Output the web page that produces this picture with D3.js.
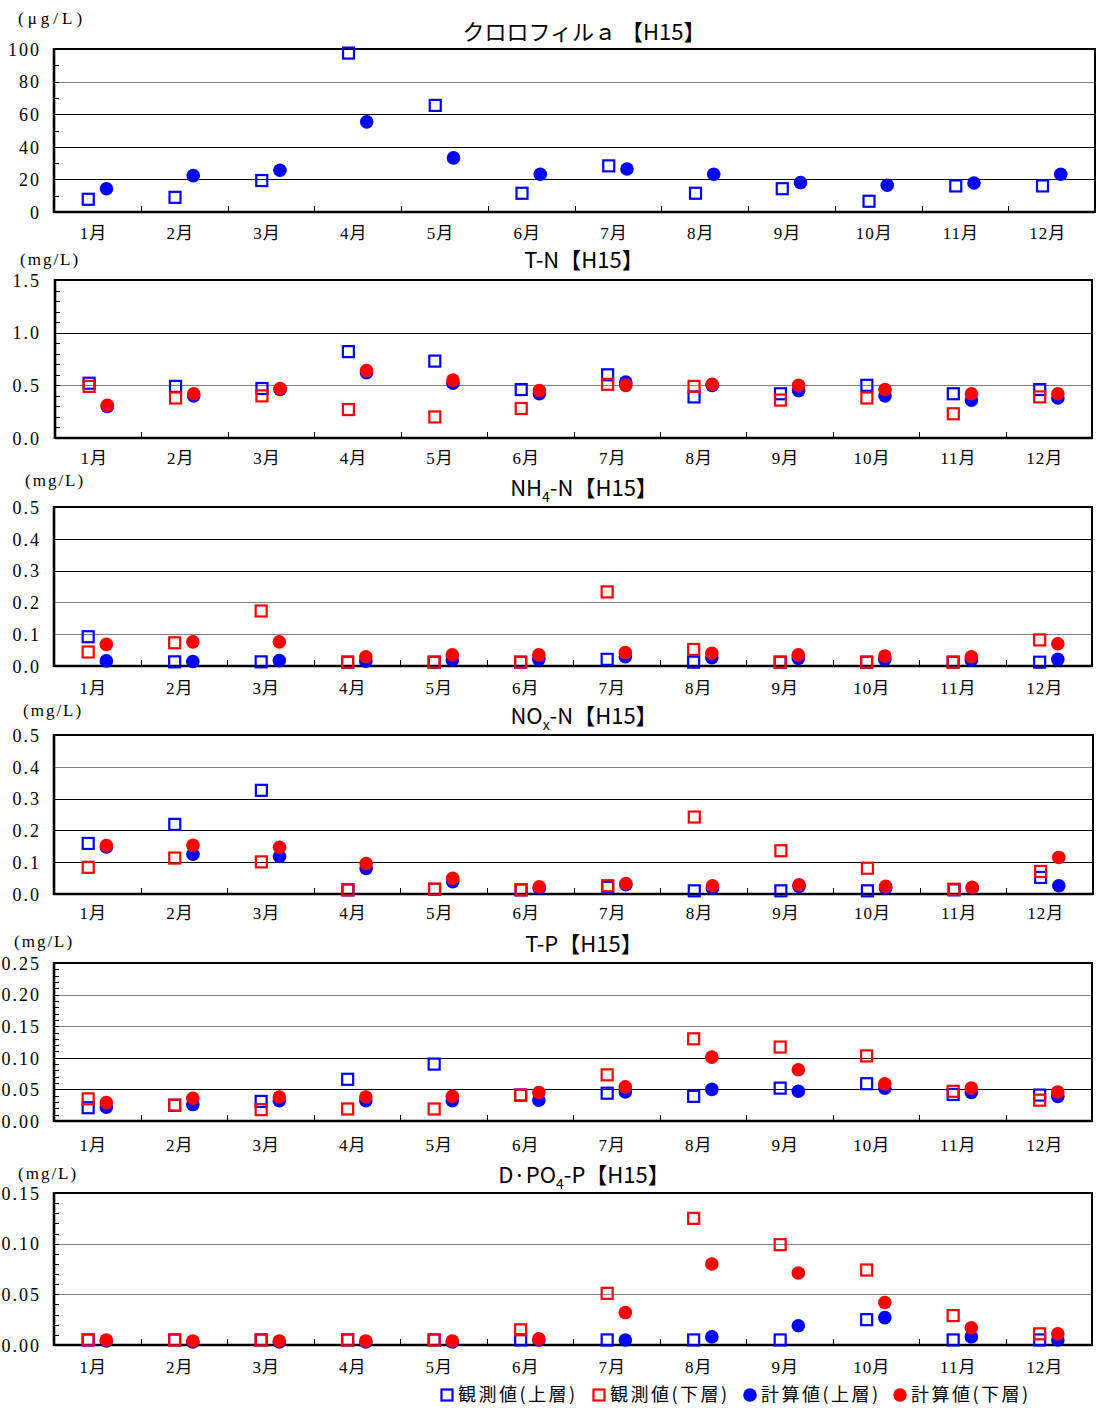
<!DOCTYPE html>
<html><head><meta charset="utf-8">
<script src="https://cdn.jsdelivr.net/npm/d3@7"></script>
<style>body{margin:0;background:#fff}svg{display:block}</style>
</head><body>
<svg id="chart" width="1097" height="1410"></svg>
<script>
// ---------- DATA ----------
const months = ["1月","2月","3月","4月","5月","6月","7月","8月","9月","10月","11月","12月"];
const seriesNames = ["観測値(上層)","観測値(下層)","計算値(上層)","計算値(下層)"];

// クロロフィルa (μg/L)
const chlTicks = [0,20,40,60,80,100];
const chlObsUpper  = [7.8, 9.0, 19.3, 97.5, 65.4, 11.5, 28.3, 11.5, 14.3, 6.6, 16.0, 16.0];
const chlCalcUpper = [14.3, 22.3, 25.6, 55.3, 33.2, 23.2, 26.4, 23.2, 18.0, 16.4, 17.8, 23.2];

// T-N (mg/L)
const tnTicks = [0,0.5,1.0,1.5];
const tnObsUpper  = [0.52,0.49,0.47,0.82,0.73,0.46,0.60,0.39,0.42,0.50,0.42,0.46];
const tnObsLower  = [0.49,0.38,0.40,0.27,0.20,0.28,0.51,0.49,0.36,0.38,0.23,0.39];
const tnCalcUpper = [0.30,0.40,0.46,0.62,0.52,0.42,0.53,0.50,0.45,0.40,0.36,0.38];
const tnCalcLower = [0.31,0.42,0.47,0.64,0.55,0.45,0.50,0.51,0.50,0.46,0.42,0.42];

// NH4-N (mg/L)
const nh4Ticks = [0,0.1,0.2,0.3,0.4,0.5];
const nh4ObsUpper  = [0.092,0.013,0.013,0.012,0.012,0.012,0.021,0.012,0.012,0.012,0.012,0.012];
const nh4ObsLower  = [0.044,0.073,0.173,0.012,0.012,0.012,0.233,0.052,0.012,0.012,0.012,0.082];
const nh4CalcUpper = [0.016,0.014,0.017,0.015,0.019,0.021,0.029,0.026,0.024,0.021,0.018,0.021];
const nh4CalcLower = [0.068,0.076,0.076,0.029,0.035,0.035,0.042,0.040,0.035,0.031,0.029,0.070];

// NOx-N (mg/L)
const noxTicks = [0,0.1,0.2,0.3,0.4,0.5];
const noxObsUpper  = [0.159,0.219,0.326,0.013,0.015,0.013,0.021,0.010,0.010,0.010,0.013,0.052];
const noxObsLower  = [0.084,0.113,0.101,0.013,0.015,0.013,0.026,0.242,0.136,0.081,0.015,0.071];
const noxCalcUpper = [0.148,0.125,0.118,0.080,0.039,0.018,0.029,0.018,0.024,0.019,0.019,0.026];
const noxCalcLower = [0.152,0.153,0.147,0.096,0.049,0.023,0.033,0.026,0.029,0.024,0.021,0.115];

// T-P (mg/L)
const tpTicks = [0,0.05,0.10,0.15,0.20,0.25];
const tpObsUpper  = [0.021,0.025,0.031,0.066,0.090,0.041,0.044,0.039,0.052,0.059,0.042,0.041];
const tpObsLower  = [0.035,0.025,0.018,0.019,0.019,0.041,0.073,0.130,0.117,0.103,0.047,0.033];
const tpCalcUpper = [0.022,0.026,0.032,0.032,0.032,0.033,0.046,0.050,0.047,0.052,0.045,0.039];
const tpCalcLower = [0.029,0.036,0.038,0.038,0.039,0.045,0.054,0.101,0.081,0.059,0.052,0.046];

// D・PO4-P (mg/L)
const po4Ticks = [0,0.05,0.10,0.15];
const po4ObsUpper  = [0.005,0.005,0.005,0.005,0.005,0.005,0.005,0.005,0.005,0.025,0.005,0.005];
const po4ObsLower  = [0.005,0.005,0.005,0.005,0.005,0.015,0.051,0.125,0.099,0.074,0.029,0.011];
const po4CalcUpper = [0.004,0.003,0.003,0.003,0.003,0.005,0.005,0.008,0.019,0.027,0.008,0.005];
const po4CalcLower = [0.005,0.004,0.004,0.004,0.004,0.006,0.032,0.080,0.071,0.042,0.017,0.011];

// ---------- LAYOUT / STYLE ----------
const SERIF = "'Liberation Serif','DejaVu Serif','Noto Sans CJK JP',serif";
const GOTHIC = "'Noto Sans CJK JP','Noto Sans',sans-serif";
const BLUE = "#0000ff", RED = "#ff0000";
const styles = [
  {shape:"square", color:BLUE},
  {shape:"square", color:RED},
  {shape:"circle", color:BLUE},
  {shape:"circle", color:RED}
];

const panels = [
  {title:[{t:"クロロフィルａ 【H15】"}], unit:"(μg/L)", unitX:18, unitLs:4, unitY:18,
   ticks:chlTicks, fmt:d3.format("d"), minor:10, gray:[80],
   series:[chlObsUpper,null,chlCalcUpper,null],
   box:{l:54,r:1095,t:49,b:212}, titleY:32, monthDy:21},
  {title:[{t:"T-N【H15】"}], unit:"(mg/L)", unitX:20, unitLs:2, unitY:259,
   ticks:tnTicks, fmt:d3.format(".1f"), minor:0.1, gray:[0.5],
   series:[tnObsUpper,tnObsLower,tnCalcUpper,tnCalcLower],
   box:{l:55,r:1092,t:280,b:438}, titleY:260, monthDy:20},
  {title:[{t:"NH"},{t:"4",sub:true},{t:"-N【H15】"}], unit:"(mg/L)", unitX:25, unitLs:2, unitY:480,
   ticks:nh4Ticks, fmt:d3.format(".1f"), minor:null, gray:[0.1,0.2],
   series:[nh4ObsUpper,nh4ObsLower,nh4CalcUpper,nh4CalcLower],
   box:{l:54,r:1092,t:507,b:666}, titleY:488, monthDy:22},
  {title:[{t:"NO"},{t:"x",sub:true},{t:"-N【H15】"}], unit:"(mg/L)", unitX:23, unitLs:2, unitY:710,
   ticks:noxTicks, fmt:d3.format(".1f"), minor:null, gray:[0.4],
   series:[noxObsUpper,noxObsLower,noxCalcUpper,noxCalcLower],
   box:{l:54,r:1093,t:735,b:894}, titleY:716, monthDy:19},
  {title:[{t:"T-P【H15】"}], unit:"(mg/L)", unitX:14, unitLs:2, unitY:941,
   ticks:tpTicks, fmt:d3.format(".2f"), minor:0.01, gray:[0.15,0.2],
   series:[tpObsUpper,tpObsLower,tpCalcUpper,tpCalcLower],
   box:{l:54,r:1092,t:963,b:1121}, titleY:944, monthDy:24},
  {title:[{t:"D·PO"},{t:"4",sub:true},{t:"-P【H15】"}], unit:"(mg/L)", unitX:18, unitLs:2, unitY:1173,
   ticks:po4Ticks, fmt:d3.format(".2f"), minor:0.01, gray:[0.1,0.05],
   series:[po4ObsUpper,po4ObsLower,po4CalcUpper,po4CalcLower],
   box:{l:54,r:1092,t:1193,b:1345}, titleY:1175, monthDy:22}
];

const svg = d3.select("#chart");

function drawMarker(sel, shape, color) {
  if (shape === "square") {
    sel.append("rect").attr("x",-5.5).attr("y",-5.5).attr("width",11).attr("height",11)
      .attr("fill","none").attr("stroke",color).attr("stroke-width",2.2);
  } else {
    sel.append("circle").attr("r",6.8).attr("fill",color);
  }
}

panels.forEach(p => {
  const b = p.box;
  const dom = d3.extent(p.ticks);
  const x = d3.scaleBand().domain(months).range([b.l, b.r]).padding(0);
  const y = d3.scaleLinear().domain(dom).range([b.b, b.t]);
  const g = svg.append("g");

  // gridlines
  g.selectAll("line.grid").data(p.ticks.filter(t => t > dom[0] && t < dom[1])).join("line")
    .attr("x1", b.l).attr("x2", b.r)
    .attr("y1", d => Math.round(y(d)) + 0.5).attr("y2", d => Math.round(y(d)) + 0.5)
    .attr("stroke", d => p.gray.some(v => Math.abs(v - d) < 1e-9) ? "#808080" : "#000")
    .attr("stroke-width", 1);

  // minor ticks (inside)
  if (p.minor) {
    const n = Math.round((dom[1]-dom[0]) / p.minor);
    const minors = d3.range(1, n).map(i => dom[0] + i * p.minor);
    g.selectAll("line.minor").data(minors).join("line")
      .attr("x1", b.l).attr("x2", b.l + 5)
      .attr("y1", d => Math.round(y(d)) + 0.5).attr("y2", d => Math.round(y(d)) + 0.5)
      .attr("stroke", "#000").attr("stroke-width", 1);
  }

  // month boundary ticks (inside, upward)
  g.selectAll("line.xt").data(months.slice(1)).join("line")
    .attr("x1", d => Math.round(x(d)) + 0.5).attr("x2", d => Math.round(x(d)) + 0.5)
    .attr("y1", b.b).attr("y2", b.b - 6)
    .attr("stroke", "#000").attr("stroke-width", 1);

  // frame
  g.append("rect").attr("x", b.l).attr("y", b.t).attr("width", b.r - b.l).attr("height", b.b - b.t)
    .attr("fill", "none").attr("stroke", "#000").attr("stroke-width", 2);
  g.append("line").attr("x1", b.l).attr("x2", b.l).attr("y1", b.t - 1).attr("y2", b.b + 1)
    .attr("stroke", "#000").attr("stroke-width", 2.6);
  g.append("line").attr("x1", b.l).attr("x2", b.r).attr("y1", b.b).attr("y2", b.b)
    .attr("stroke", "#000").attr("stroke-width", 2.6);

  // y axis labels
  const ya = g.append("g").attr("transform", `translate(${b.l},0)`)
    .call(d3.axisLeft(y).tickValues(p.ticks).tickFormat(p.fmt).tickSize(0).tickPadding(b.l - 41));
  ya.select(".domain").remove();
  ya.selectAll("text").attr("font-family", SERIF).attr("font-size", 18)
    .attr("letter-spacing", 2).attr("fill", "#000").attr("dy", "0.35em");

  // x axis labels
  const xa = g.append("g").attr("transform", `translate(0,${b.b})`)
    .call(d3.axisBottom(x).tickSize(0).tickPadding(0));
  xa.select(".domain").remove();
  xa.selectAll("text").attr("font-family", SERIF).attr("font-size", 17)
    .attr("letter-spacing", 1).attr("fill", "#000").attr("y", p.monthDy).attr("dy", "0.35em").attr("dx", -4);

  // title
  const tt = g.append("text").attr("x", 584).attr("y", p.titleY).attr("dy", "0.36em")
    .attr("text-anchor", "middle").attr("font-family", GOTHIC).attr("font-size", 22).attr("fill", "#000");
  p.title.forEach(part => {
    const ts = tt.append("tspan").text(part.t);
    if (part.sub) ts.attr("font-size", 14).attr("baseline-shift", "-6");
  });

  // unit
  g.append("text").attr("x", p.unitX).attr("y", p.unitY).attr("dy", "0.35em")
    .attr("font-family", SERIF).attr("font-size", 17).attr("letter-spacing", p.unitLs)
    .attr("fill", "#000").text(p.unit);

  // markers
  const off = x.bandwidth() * 0.105;
  p.series.forEach((vals, si) => {
    if (!vals) return;
    const st = styles[si];
    const dx = st.shape === "square" ? -off : off;
    const pts = g.selectAll(null).data(vals.map((v, i) => ({m: months[i], v}))).join("g")
      .attr("transform", d => `translate(${x(d.m) + x.bandwidth()/2 + dx},${y(d.v)})`);
    drawMarker(pts, st.shape, st.color);
  });
});

// legend
const legendX = [447, 599, 750, 900];
const lg = svg.append("g").attr("transform", "translate(0,1395)");
seriesNames.forEach((name, i) => {
  const it = lg.append("g").attr("transform", `translate(${legendX[i]},0)`);
  drawMarker(it, styles[i].shape, styles[i].color);
  it.append("text").attr("x", 11).attr("dy", "0.36em").attr("font-family", GOTHIC)
    .attr("font-size", 18).attr("letter-spacing", 2.5).attr("fill", "#000").text(name);
});
</script>
</body></html>
